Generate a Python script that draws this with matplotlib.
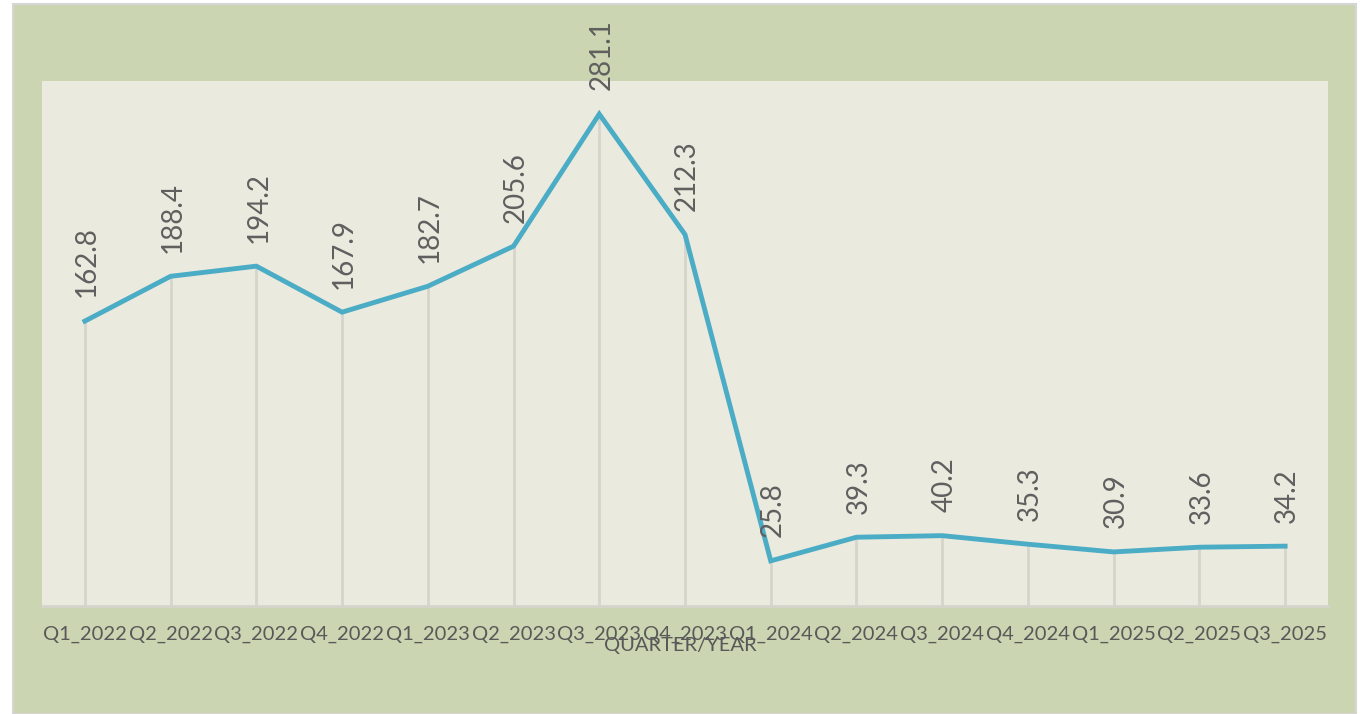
import matplotlib.pyplot as plt
from matplotlib.patches import Rectangle

quarters = ["Q1_2022", "Q2_2022", "Q3_2022", "Q4_2022", "Q1_2023", "Q2_2023",
            "Q3_2023", "Q4_2023", "Q1_2024", "Q2_2024", "Q3_2024", "Q4_2024",
            "Q1_2025", "Q2_2025", "Q3_2025"]
values = [162.8, 188.4, 194.2, 167.9, 182.7, 205.6, 281.1, 212.3,
          25.8, 39.3, 40.2, 35.3, 30.9, 33.6, 34.2]

W, H = 1366, 714
fig = plt.figure(figsize=(W / 100, H / 100), dpi=100)
fig.patch.set_facecolor("white")

# green chart area with thin grey border, behind the axes
fig.patches.append(Rectangle((13 / W, 0), 1343 / W, 710 / H, transform=fig.transFigure,
                             facecolor="#CBD5B1", edgecolor="#D6D6D6", linewidth=1.5,
                             zorder=-10))

ax = fig.add_axes([42 / W, 1 - 606 / H, 1286 / W, 525 / H])
ax.set_facecolor("#EBEADE")
x = range(len(quarters))

ax.vlines(x, 0, values, color="#D6D5CD", linewidth=2, zorder=1)
ax.plot(x, values, color="#4BACC6", linewidth=3.5, zorder=3, solid_joinstyle="miter")

for i, v in enumerate(values):
    ax.annotate(f"{v:.1f}", (i, v), xytext=(1.5, 17), textcoords="offset points",
                rotation=90, ha="center", va="bottom", fontsize=20,
                color="#5f5f5f", family="Lato", annotation_clip=False)

ax.set_xlim(-0.5, len(quarters) - 0.5)
ax.set_ylim(0, 300)
ax.set_yticks([])
ax.set_xticks(list(x))
ax.set_xticklabels(quarters, fontsize=14.5, color="#595959", family="Lato")
ax.tick_params(axis="x", length=0, pad=14.5)
for side in ["top", "left", "right"]:
    ax.spines[side].set_visible(False)
ax.spines["bottom"].set_color("#D6D5CD")
ax.spines["bottom"].set_linewidth(2)

fig.text(680 / W, 1 - 646 / H, "QUARTER/YEAR", ha="center", va="center",
         fontsize=14.5, color="#595959", family="Lato")

fig.savefig("out.png", dpi=100)
